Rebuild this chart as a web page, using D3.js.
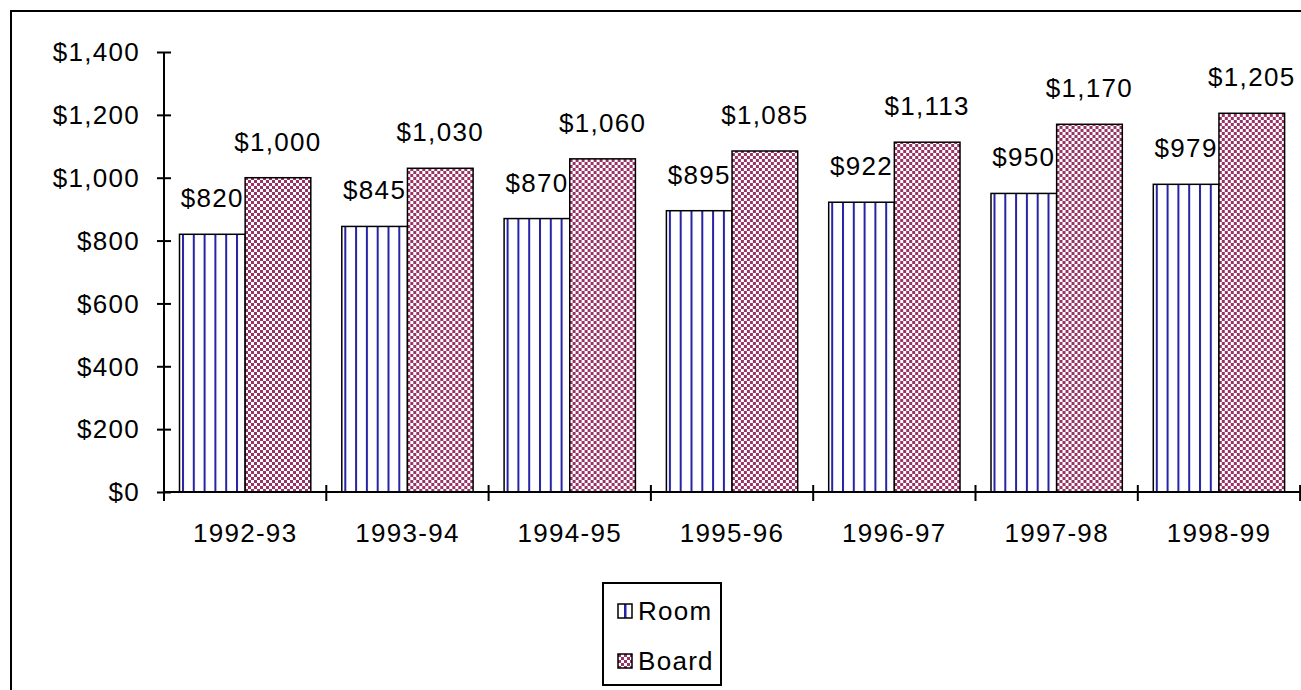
<!DOCTYPE html>
<html>
<head>
<meta charset="utf-8">
<script src="https://cdn.jsdelivr.net/npm/d3@7"></script>
<style>
  html, body { margin: 0; padding: 0; background: #fff; }
  svg { display: block; }
  text { font-family: "Liberation Sans", Arial, sans-serif; fill: #000; letter-spacing: 1.3px; }
</style>
</head>
<body>
<svg id="chart" width="1301" height="690"></svg>
<script>
// Room and board charges per academic year
const categories = ["1992-93", "1993-94", "1994-95", "1995-96", "1996-97", "1997-98", "1998-99"];
const roomValues = [820, 845, 870, 895, 922, 950, 979];
const boardValues = [1000, 1030, 1060, 1085, 1113, 1170, 1205];
const seriesNames = ["Room", "Board"];
const yTicks = [0, 200, 400, 600, 800, 1000, 1200, 1400];

const svg = d3.select("#chart");
const W = 1301, H = 690;
const FONT = 26;

const plot = { left: 164, top: 52, bottom: 492, right: 1300.1 };

const x0 = d3.scaleBand().domain(categories).range([plot.left, plot.right]).padding(0);
const bw = x0.bandwidth();
const x1 = d3.scaleBand().domain(seriesNames).range([15.5, bw - 15.5]).padding(0);
const y = d3.scaleLinear().domain([0, 1400]).range([plot.bottom, plot.top]);

const fmt = v => "$" + d3.format(",")(v);

// Fill patterns: vertical navy stripes for Room, maroon checks for Board
const defs = svg.append("defs");
const roomPat = defs.append("pattern")
  .attr("id", "roomFill")
  .attr("patternUnits", "userSpaceOnUse")
  .attr("x", x0(categories[0]) + x1("Room") + 0.5).attr("y", 0)
  .attr("width", 10.8).attr("height", 10);
roomPat.append("rect").attr("width", 10.8).attr("height", 10).attr("fill", "#fff");
roomPat.append("rect").attr("x", 0).attr("width", 2).attr("height", 10).attr("fill", "#2424a4");

const boardPat = defs.append("pattern")
  .attr("id", "boardFill")
  .attr("patternUnits", "userSpaceOnUse")
  .attr("x", 0).attr("y", 0)
  .attr("width", 6).attr("height", 6);
boardPat.append("rect").attr("width", 6).attr("height", 6).attr("fill", "#fff");
boardPat.append("rect").attr("x", 0).attr("y", 0).attr("width", 3).attr("height", 3).attr("fill", "#993366");
boardPat.append("rect").attr("x", 3).attr("y", 3).attr("width", 3).attr("height", 3).attr("fill", "#993366");

// Legend swatch pattern for Room: single stripe in the middle
const roomSw = defs.append("pattern")
  .attr("id", "roomSwatch").attr("patternUnits", "objectBoundingBox")
  .attr("width", 1).attr("height", 1);
roomSw.append("rect").attr("width", 14).attr("height", 14).attr("fill", "#fff");
roomSw.append("rect").attr("x", 6).attr("width", 2.5).attr("height", 14).attr("fill", "#2424a4");

const fills = { Room: "url(#roomFill)", Board: "url(#boardFill)" };
const values = { Room: roomValues, Board: boardValues };

// Outer frame
svg.append("rect")
  .attr("x", 11).attr("y", 11)
  .attr("width", W + 20).attr("height", H + 20)
  .attr("fill", "none").attr("stroke", "#000").attr("stroke-width", 2);

// Bars
const groups = svg.append("g").selectAll("g")
  .data(categories)
  .join("g")
  .attr("transform", c => `translate(${x0(c)},0)`);

groups.selectAll("rect")
  .data((c, i) => seriesNames.map(s => ({ s, v: values[s][i] })))
  .join("rect")
  .attr("x", d => x1(d.s))
  .attr("y", d => y(d.v))
  .attr("width", x1.bandwidth())
  .attr("height", d => y(0) - y(d.v))
  .attr("fill", d => fills[d.s])
  .attr("stroke", "#000")
  .attr("stroke-width", 1.5);

// Value labels
groups.selectAll("text")
  .data((c, i) => seriesNames.map(s => ({ s, v: values[s][i] })))
  .join("text")
  .attr("x", d => x1(d.s) + x1.bandwidth() / 2)
  .attr("y", d => y(d.v) - 27)
  .attr("text-anchor", "middle")
  .attr("font-size", FONT)
  .text(d => fmt(d.v));

// Y axis
const yAxis = svg.append("g")
  .attr("transform", `translate(${plot.left},0)`)
  .call(d3.axisLeft(y).tickValues(yTicks).tickFormat(fmt).tickSize(7).tickPadding(17))
  .call(g => g.select(".domain").attr("stroke", "#000").attr("stroke-width", 2).attr("d", `M0,${plot.top}V${plot.bottom + 9}`));
yAxis.selectAll(".tick line").attr("x1", -7).attr("x2", 7).attr("stroke", "#000").attr("stroke-width", 2);
yAxis.selectAll(".tick text").attr("font-size", FONT).attr("font-family", null).attr("fill", "#000").attr("dy", "0.34em");

// X axis with tick marks at category boundaries
const xAxis = svg.append("g").attr("transform", `translate(0,${plot.bottom})`);
xAxis.append("line").attr("x1", plot.left).attr("x2", W).attr("stroke", "#000").attr("stroke-width", 2);
const boundaries = categories.map(c => x0(c)).concat([x0(categories[categories.length - 1]) + bw]);
xAxis.selectAll("line.tk").data(boundaries).join("line")
  .attr("class", "tk")
  .attr("x1", d => d).attr("x2", d => d)
  .attr("y1", -7).attr("y2", 9)
  .attr("stroke", "#000").attr("stroke-width", 2);
xAxis.selectAll("text").data(categories).join("text")
  .attr("x", c => x0(c) + bw / 2)
  .attr("y", 50)
  .attr("text-anchor", "middle")
  .attr("font-size", FONT)
  .text(c => c);

// Legend
const lg = svg.append("g");
lg.append("rect")
  .attr("x", 603).attr("y", 583).attr("width", 118).attr("height", 102)
  .attr("fill", "#fff").attr("stroke", "#000").attr("stroke-width", 2);
const legendItems = [
  { s: "Room", fill: "url(#roomSwatch)", cy: 611 },
  { s: "Board", fill: "url(#boardFill)", cy: 661 }
];
legendItems.forEach(it => {
  lg.append("rect")
    .attr("x", 618).attr("y", it.cy - 7).attr("width", 14).attr("height", 14)
    .attr("fill", it.fill).attr("stroke", "#000").attr("stroke-width", 1.5);
  lg.append("text")
    .attr("x", 638).attr("y", it.cy).attr("dy", "0.36em")
    .attr("font-size", FONT)
    .text(it.s);
});
</script>
</body>
</html>
